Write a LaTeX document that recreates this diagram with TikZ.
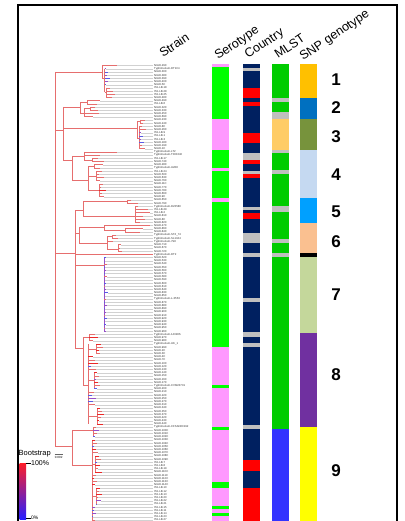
\documentclass[tikz,border=0pt]{standalone}
\usepackage{fontspec}
\setmainfont{Liberation Sans}
\definecolor{treec}{RGB}{230,110,110}
\definecolor{tviol}{RGB}{150,80,200}
\definecolor{tblue}{RGB}{90,90,230}
\definecolor{tred}{RGB}{235,40,40}
\definecolor{sgreen}{RGB}{0,255,0}
\definecolor{spink}{RGB}{255,153,255}
\definecolor{cnavy}{RGB}{0,32,96}
\definecolor{cred}{RGB}{255,0,0}
\definecolor{cgray}{RGB}{191,191,191}
\definecolor{mgreen}{RGB}{0,204,0}
\definecolor{morange}{RGB}{255,204,102}
\definecolor{mblue}{RGB}{51,51,255}
\definecolor{gorange}{RGB}{255,192,0}
\definecolor{gblue}{RGB}{0,112,192}
\definecolor{golive}{RGB}{119,147,60}
\definecolor{glblue}{RGB}{197,217,241}
\definecolor{gsky}{RGB}{0,160,255}
\definecolor{gpeach}{RGB}{250,192,144}
\definecolor{gpgreen}{RGB}{196,215,155}
\definecolor{gpurple}{RGB}{112,48,160}
\definecolor{gyellow}{RGB}{255,255,0}
\tikzset{
  br/.style={draw=treec,line width=0.7pt},
  lp/.style={draw=treec,line width=0.7pt},
  lv/.style={draw=tviol,line width=0.7pt},
  lu/.style={draw=tblue,line width=0.7pt},
  lr/.style={draw=tred,line width=0.7pt},
  leafln/.style={draw=black!18,line width=0.35pt},
  lab/.style={anchor=west,inner sep=0pt,text=black!80,font=\fontsize{2.8}{2.8}\selectfont},
  hdr/.style={anchor=base west,rotate=34,inner sep=0pt,font=\fontsize{12.5}{12.5}\selectfont},
  num/.style={inner sep=0pt,font=\fontsize{17}{17}\selectfont\bfseries},
}
\newcommand\Vl[3]{\draw[br] (#1,#2) -- (#1,#3);}
\newcommand\Hl[3]{\draw[br] (#1,#3) -- (#2,#3);}
\newcommand\lf[5]{\pgfmathsetmacro\yy{65.6+3.2*#1}%
  \draw[leafln] (#3,\yy) -- (153,\yy);%
  \draw[#4] (#2,\yy) -- (#3,\yy);%
  \node[lab] (lab#1) at (154,\yy) {#5};}
\newcommand\sg[4]{\fill[#4] (#1,#2) rectangle ({#1+17},#3);}
\begin{document}
\begin{tikzpicture}[x=1pt,y=-1pt]
\useasboundingbox (0,0) rectangle (404,521);
\clip (0,0) rectangle (404,521);
\fill[white] (0,0) rectangle (404,521);
% frame
\draw[line width=2pt] (17.5,4.8) rectangle (397,540);
% headers
\node[hdr] (hS) at (163,58) {Strain};
\node[hdr] (hSe) at (218,60) {Serotype};
\node[hdr] (hC) at (248,59) {Country};
\node[hdr] (hM) at (278,59) {MLST};
\node[hdr] (hG) at (303,61) {SNP genotype};
% ---------- tree ----------
\Vl{55}{72}{446}
% C1
\Hl{55}{102}{72} \Vl{102}{65.6}{78} \Hl{102}{104.5}{78} \Vl{104.5}{68.8}{92}
\Hl{104.5}{106}{92} \Vl{106}{88}{97.6}
\lf{0}{102}{117}{lp}{NIAH-29C}
\lf{1}{104.5}{106}{lv}{Typhimurium-DT104}
\lf{2}{104.5}{108}{lu}{NIAH-30C}
\lf{3}{104.5}{107}{lv}{NIAH-38C}
\lf{4}{104.5}{110}{lu}{NIAH-39C}
\lf{5}{104.5}{108}{lv}{NIAH-40C}
\lf{6}{104.5}{106}{lu}{NIAH-5C}
\lf{7}{106}{110}{lp}{ITA-LB-18}
\lf{8}{106}{113}{lp}{ITA-LB-28}
\lf{9}{106}{115}{lp}{ITA-LB-25}
\lf{10}{106}{112}{lp}{NIAH-48C}
% C2-C4
\Hl{55}{63}{130} \Vl{63}{107}{160}
\Hl{63}{80}{107} \Vl{80}{102.4}{113} \Hl{80}{87}{102.4} \Vl{87}{100.8}{104}
\Hl{80}{84}{113} \Vl{84}{108.8}{116.8} \Hl{84}{90}{108.8} \Vl{90}{107.2}{110.4}
\lf{11}{87}{100}{lp}{NIAH-49C}
\lf{12}{87}{97}{lp}{ITA-LB-6}
\lf{13}{90}{95}{lp}{NIAH-32C}
\lf{14}{90}{98}{lp}{NIAH-33C}
\lf{15}{84}{99}{lp}{NIAH-45C}
\lf{16}{84}{93}{lp}{NIAH-69C}
\Hl{63}{137}{128} \Vl{137}{121.6}{138} \Hl{137}{140}{121.6} \Vl{140}{120}{123.2}
\Hl{137}{139}{138} \Vl{139}{126.4}{148.8}
\lf{17}{140}{145}{lp}{NIAH-23C}
\lf{18}{140}{143}{lp}{NIAH-24C}
\lf{19}{139}{142}{lp}{NIAH-8C}
\lf{20}{139}{146}{lp}{NIAH-26C}
\lf{21}{139}{141}{lv}{ITA-LB-9}
\lf{22}{139}{143}{lu}{ITA-LB-1}
\lf{23}{139}{141}{lv}{ITA-LB-3}
\lf{24}{139}{144}{lu}{NIAH-18C}
\lf{25}{139}{142}{lp}{NIAH-19C}
\lf{26}{139}{145}{lp}{NIAH-1C}
\Hl{63}{72}{160} \Vl{72}{156}{180} \Hl{72}{84}{156} \Vl{84}{152}{160}
\Hl{84}{92}{160} \Vl{92}{158.4}{161.6} \Hl{72}{88}{180} \Vl{88}{166.4}{190}
\Hl{88}{94}{166.4} \Vl{94}{164.8}{168} \Hl{88}{96}{176} \Vl{96}{171.2}{180.8}
\Hl{88}{99}{190} \Vl{99}{184}{196.8}
\lf{27}{84}{117}{lp}{Typhimurium-LT2}
\lf{28}{84}{100}{lp}{Typhimurium-T000240}
\lf{29}{92}{98}{lp}{ITA-LB-17}
\lf{30}{92}{104}{lp}{NIAH-74C}
\lf{31}{94}{103}{lp}{NIAH-28C}
\lf{32}{94}{100}{lp}{Typhimurium-U288}
\lf{33}{96}{102}{lp}{ITA-LB-24}
\lf{34}{96}{99}{lp}{NIAH-50C}
\lf{35}{96}{104}{lp}{NIAH-63C}
\lf{36}{96}{100}{lp}{NIAH-76C}
\lf{37}{99}{103}{lp}{NIAH-11C}
\lf{38}{99}{101}{lp}{NIAH-77C}
\lf{39}{99}{106}{lr}{NIAH-78C}
\lf{40}{99}{102}{lp}{NIAH-66C}
\lf{41}{99}{104}{lp}{NIAH-9C}
% C5-C8
\Hl{55}{75}{253} \Vl{75}{210}{348}
\Hl{75}{83}{210} \Vl{83}{201.6}{216} \Hl{83}{127}{201.6} \Vl{127}{200}{203.2}
\Hl{83}{135}{216} \Vl{135}{206.4}{222.4}
\lf{42}{127}{131}{lp}{NIAH-65C}
\lf{43}{127}{138}{lp}{NIAH-79C}
\lf{44}{135}{138}{lp}{Typhimurium-D23580}
\lf{45}{135}{148}{lp}{ITA-LB-29}
\lf{46}{135}{150}{lp}{ITA-LB-2}
\lf{47}{135}{143}{lp}{NIAH-81C}
\lf{48}{135}{145}{lp}{NIAH-8C}
\lf{49}{135}{140}{lp}{NIAH-82C}
\Hl{75}{79}{233} \Vl{79}{227}{243} \Hl{79}{104}{227} \Vl{104}{225.6}{230.4}
\Hl{104}{125}{230.4} \Vl{125}{228.8}{232} \Hl{79}{107}{243} \Vl{107}{236.8}{249.6}
\Hl{107}{112}{236.8} \Vl{112}{235.2}{238.4} \Hl{107}{118}{249.6} \Vl{118}{244.8}{251.2}
\lf{50}{104}{150}{lp}{NIAH-47C}
\lf{51}{125}{143}{lp}{NIAH-86C}
\lf{52}{125}{140}{lp}{NIAH-84C}
\lf{53}{112}{116}{lp}{Typhimurium-ST4\_74}
\lf{54}{112}{118}{lp}{Typhimurium-SL1344}
\lf{55}{107}{113}{lp}{Typhimurium-798}
\lf{56}{118}{121}{lp}{NIAH-71C}
\lf{57}{118}{120}{lp}{NIAH-67C}
\lf{58}{118}{122}{lp}{NIAH-72C}
\lf{59}{75}{153}{lp}{Typhimurium-DT2}
\Hl{75}{104}{265} \draw[lv] (104,257.6) -- (104,331.2);
\lf{60}{104}{106}{lu}{NIAH-52C}
\lf{61}{104}{105}{lv}{NIAH-53C}
\lf{62}{104}{107}{lp}{NIAH-54C}
\lf{63}{104}{105}{lu}{NIAH-55C}
\lf{64}{104}{106}{lv}{NIAH-56C}
\lf{65}{104}{105}{lu}{NIAH-57C}
\lf{66}{104}{107}{lp}{NIAH-58C}
\lf{67}{104}{105}{lv}{NIAH-59C}
\lf{68}{104}{106}{lu}{NIAH-60C}
\lf{69}{104}{105}{lp}{NIAH-61C}
\lf{70}{104}{106}{lv}{NIAH-64C}
\lf{71}{104}{108}{lu}{NIAH-83C}
\lf{72}{104}{105}{lv}{NIAH-85C}
\lf{73}{104}{106}{lp}{Typhimurium-L-3553}
\lf{74}{104}{105}{lu}{NIAH-87C}
\lf{75}{104}{107}{lv}{NIAH-88C}
\lf{76}{104}{105}{lu}{NIAH-89C}
\lf{77}{104}{106}{lv}{NIAH-90C}
\lf{78}{104}{105}{lp}{NIAH-91C}
\lf{79}{104}{107}{lu}{NIAH-92C}
\lf{80}{104}{105}{lv}{NIAH-93C}
\lf{81}{104}{106}{lu}{NIAH-94C}
\lf{82}{104}{105}{lp}{NIAH-95C}
\lf{83}{104}{106}{lv}{NIAH-96C}
\Hl{75}{83}{348} \Vl{83}{337}{385} \Hl{83}{89}{337} \Vl{89}{334.4}{340.8}
\Hl{83}{88}{385} \Vl{88}{344}{424}
\Hl{88}{96}{349.6} \Vl{96}{344}{353.6}
\Hl{88}{94}{380} \Vl{94}{372.8}{388.8}
\Hl{88}{97}{416} \Vl{97}{408}{424}
\lf{84}{89}{95}{lp}{Typhimurium-14028S}
\lf{85}{89}{98}{lr}{NIAH-97C}
\lf{86}{89}{93}{lp}{NIAH-98C}
\lf{87}{96}{101}{lr}{Typhimurium-UK\_1}
\lf{88}{96}{103}{lp}{NIAH-99C}
\lf{89}{96}{99}{lr}{NIAH-2C}
\lf{90}{96}{100}{lp}{NIAH-3C}
\lf{91}{88}{93}{lr}{NIAH-4C}
\lf{92}{88}{95}{lp}{NIAH-7C}
\lf{93}{88}{98}{lr}{NIAH-10C}
\lf{94}{88}{91}{lu}{NIAH-12C}
\lf{95}{88}{96}{lp}{NIAH-13C}
\lf{96}{94}{97}{lr}{NIAH-14C}
\lf{97}{94}{99}{lp}{NIAH-15C}
\lf{98}{94}{96}{lv}{NIAH-16C}
\lf{99}{94}{98}{lr}{NIAH-17C}
\lf{100}{94}{100}{lp}{Typhimurium-CVM23701}
\lf{101}{94}{97}{lu}{NIAH-20C}
\lf{102}{88}{94}{lp}{NIAH-21C}
\lf{103}{88}{92}{lu}{NIAH-22C}
\lf{104}{88}{96}{lv}{NIAH-25C}
\lf{105}{88}{93}{lu}{NIAH-27C}
\lf{106}{88}{95}{lp}{NIAH-31C}
\lf{107}{97}{100}{lr}{NIAH-34C}
\lf{108}{97}{102}{lp}{NIAH-35C}
\lf{109}{97}{104}{lr}{NIAH-37C}
\lf{110}{97}{101}{lp}{NIAH-42C}
\lf{111}{97}{99}{lr}{NIAH-43C}
\lf{112}{97}{103}{lr}{NIAH-44C}
% C9
\Hl{55}{72}{446} \Vl{72}{430}{465} \Hl{72}{93}{430} \Vl{93}{427.2}{436.8}
\Hl{72}{92}{465} \Vl{92}{440}{520} \Hl{92}{95}{464} \Vl{95}{456}{472}
\Hl{92}{96}{496} \Vl{96}{488}{504}
\lf{113}{93}{96}{lp}{Typhimurium-CFSAN00192}
\lf{114}{93}{99}{lv}{NIAH-100C}
\lf{115}{93}{97}{lp}{NIAH-101C}
\lf{116}{93}{95}{lu}{NIAH-102C}
\lf{117}{92}{95}{lr}{NIAH-103C}
\lf{118}{92}{97}{lp}{NIAH-104C}
\lf{119}{92}{94}{lu}{NIAH-105C}
\lf{120}{92}{96}{lr}{NIAH-106C}
\lf{121}{92}{98}{lp}{NIAH-107C}
\lf{122}{95}{99}{lr}{NIAH-108C}
\lf{123}{95}{101}{lp}{NIAH-109C}
\lf{124}{95}{97}{lu}{ITA-LB-7}
\lf{125}{95}{100}{lr}{ITA-LB-8}
\lf{126}{95}{98}{lp}{ITA-LB-19}
\lf{127}{95}{102}{lr}{NIAH-110C}
\lf{128}{92}{96}{lp}{NIAH-111C}
\lf{129}{92}{94}{lr}{NIAH-112C}
\lf{130}{92}{97}{lp}{NIAH-113C}
\lf{131}{92}{95}{lr}{NIAH-114C}
\lf{132}{96}{100}{lr}{ITA-LB-10}
\lf{133}{96}{99}{lp}{ITA-LB-12}
\lf{134}{96}{102}{lr}{ITA-LB-13}
\lf{135}{96}{98}{lp}{ITA-LB-20}
\lf{136}{96}{101}{lv}{ITA-LB-22}
\lf{137}{96}{97}{lu}{ITA-LB-21}
\lf{138}{92}{95}{lv}{ITA-LB-15}
\lf{139}{92}{94}{lu}{ITA-LB-11}
\lf{140}{92}{96}{lv}{ITA-LB-14}
\lf{141}{92}{93}{lu}{ITA-LB-23}
\lf{142}{92}{95}{lp}{ITA-LB-27}
% ---------- Serotype ----------
\sg{212}{64}{67}{spink} \sg{212}{67}{119}{sgreen} \sg{212}{119}{150}{spink}
\sg{212}{150}{168}{sgreen} \sg{212}{168}{171}{spink} \sg{212}{171}{198}{sgreen}
\sg{212}{198}{202}{spink} \sg{212}{202}{347}{sgreen} \sg{212}{347}{385}{spink}
\sg{212}{385}{388}{sgreen} \sg{212}{388}{427}{spink} \sg{212}{427}{429.5}{sgreen}
\sg{212}{429.5}{482}{spink} \sg{212}{482}{488}{sgreen} \sg{212}{488}{506}{spink}
\sg{212}{506}{509}{sgreen} \sg{212}{509}{513}{spink} \sg{212}{513}{516}{sgreen}
\sg{212}{516}{521}{spink}
% ---------- Country ----------
\sg{243}{64}{68}{cnavy} \sg{243}{68}{71}{cgray} \sg{243}{71}{88}{cnavy}
\sg{243}{88}{98}{cred} \sg{243}{98}{102}{cnavy} \sg{243}{102}{106}{cred}
\sg{243}{106}{133}{cnavy} \sg{243}{133}{143}{cred} \sg{243}{143}{153}{cnavy}
\sg{243}{153}{160}{cgray} \sg{243}{160}{164}{cred} \sg{243}{164}{171}{cnavy}
\sg{243}{171}{174}{cgray} \sg{243}{174}{178}{cred} \sg{243}{178}{207}{cnavy}
\sg{243}{207}{210}{cgray} \sg{243}{210}{213}{cnavy} \sg{243}{213}{219}{cred}
\sg{243}{219}{233}{cnavy} \sg{243}{233}{243}{cgray} \sg{243}{243}{253}{cnavy}
\sg{243}{253}{257}{cgray} \sg{243}{257}{298}{cnavy} \sg{243}{298}{302}{cgray}
\sg{243}{302}{332}{cnavy} \sg{243}{332}{337}{cgray} \sg{243}{337}{343}{cnavy}
\sg{243}{343}{347}{cgray} \sg{243}{347}{425}{cnavy} \sg{243}{425}{429}{cgray}
\sg{243}{429}{460}{cnavy} \sg{243}{460}{471}{cred} \sg{243}{471}{488}{cnavy}
\sg{243}{488}{521}{cred}
% ---------- MLST ----------
\sg{272}{64}{98}{mgreen} \sg{272}{98}{102}{cgray} \sg{272}{102}{112}{mgreen}
\sg{272}{112}{119}{cgray} \sg{272}{119}{150}{morange} \sg{272}{150}{153}{cgray}
\sg{272}{153}{170}{mgreen} \sg{272}{170}{174}{cgray} \sg{272}{174}{206}{mgreen}
\sg{272}{206}{212}{cgray} \sg{272}{212}{239}{mgreen} \sg{272}{239}{243}{cgray}
\sg{272}{243}{253}{mgreen} \sg{272}{253}{257}{cgray} \sg{272}{257}{429}{mgreen}
\sg{272}{429}{521}{mblue}
% ---------- SNP genotype ----------
\sg{300}{64}{98}{gorange} \sg{300}{98}{119}{gblue} \sg{300}{119}{150}{golive}
\sg{300}{150}{198}{glblue} \sg{300}{198}{223}{gsky} \sg{300}{223}{253}{gpeach}
\sg{300}{253}{257}{black} \sg{300}{257}{333}{gpgreen} \sg{300}{333}{427}{gpurple}
\sg{300}{427}{521}{gyellow}
% numbers
\node[num] (n1) at (336,80) {1};
\node[num] (n2) at (336,108) {2};
\node[num] (n3) at (336,137) {3};
\node[num] (n4) at (336,175) {4};
\node[num] (n5) at (336,212) {5};
\node[num] (n6) at (336,242) {6};
\node[num] (n7) at (336,295) {7};
\node[num] (n8) at (336,375) {8};
\node[num] (n9) at (336,471) {9};
% scale bar
\draw[black!60,line width=0.4pt] (54.5,454.5) -- (63,454.5);
\node[inner sep=0pt,font=\fontsize{3}{3}\selectfont] (sc) at (58.7,457.6) {0.002};
% bootstrap legend
\node[anchor=west,inner sep=0pt,font=\fontsize{7.5}{7.5}\selectfont] (bs) at (18.5,453.5) {Bootstrap};
\shade[top color={rgb,255:red,255;green,30;blue,40},middle color={rgb,255:red,150;green,30;blue,150},bottom color={rgb,255:red,40;green,30;blue,255}] (19.5,463) rectangle (26,519);
\draw[line width=0.4pt] (26,463) -- (31,463);
\node[anchor=west,inner sep=0pt,font=\fontsize{7}{7}\selectfont] (b100) at (31,463.5) {100\%};
\draw[line width=0.4pt] (26,518.5) -- (31,518.5);
\node[anchor=west,inner sep=0pt,font=\fontsize{5}{5}\selectfont] (b0) at (31,518) {0\%};
\end{tikzpicture}
\end{document}
